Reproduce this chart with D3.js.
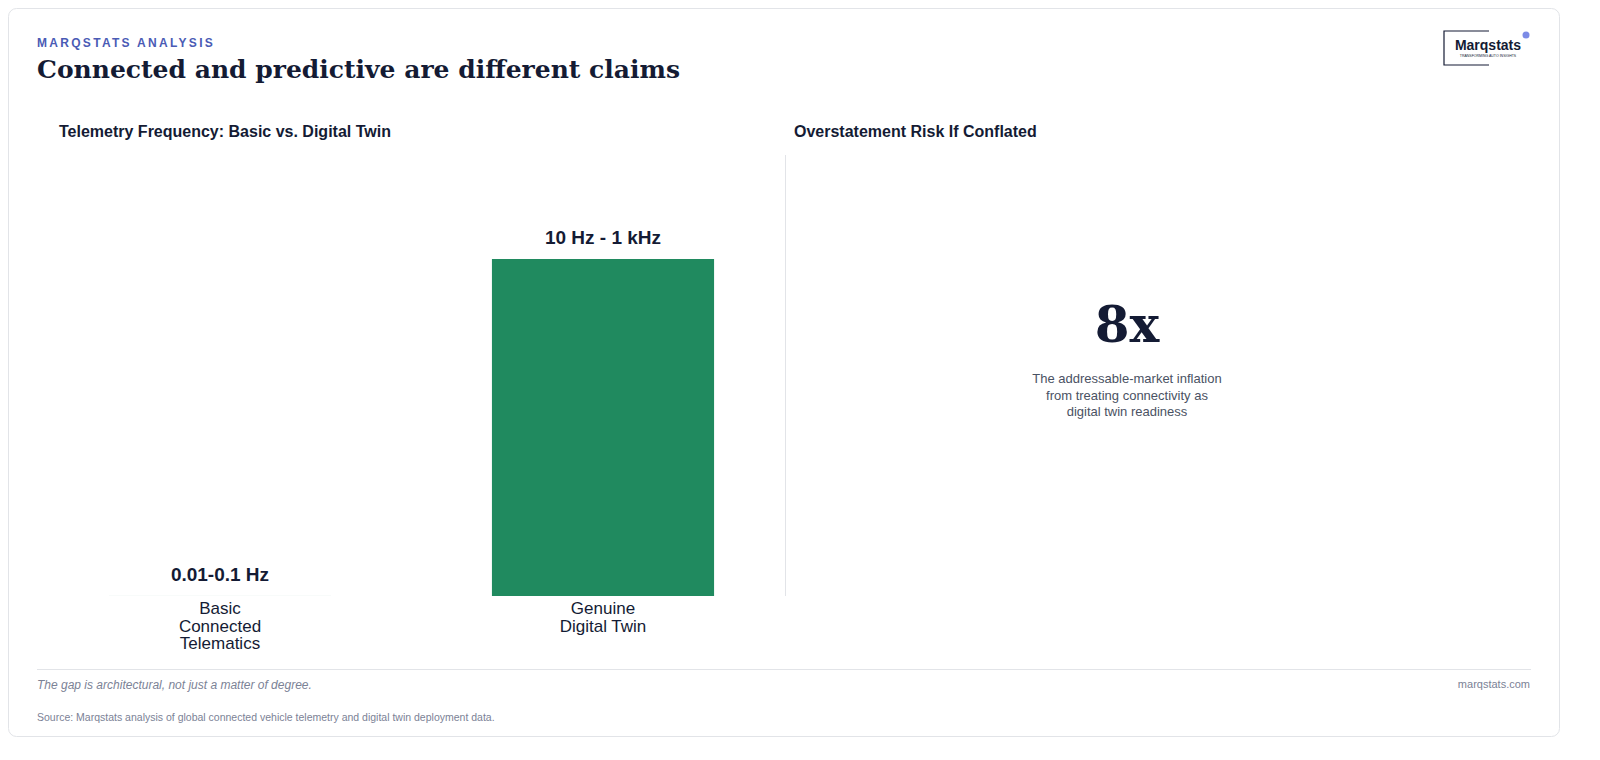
<!DOCTYPE html>
<html><head><meta charset="utf-8">
<script src="https://cdn.jsdelivr.net/npm/d3@7"></script>
<style>
body{margin:0;background:#fff;font-family:"Liberation Sans",Arial,sans-serif;}
</style></head>
<body><svg id="chart" width="1600" height="760"></svg>
<script>
var categories = ["Basic\nConnected\nTelematics", "Genuine\nDigital Twin"];
var values = [0.1, 1000];   // Hz (upper end of range)
var valueLabels = ["0.01-0.1 Hz", "10 Hz - 1 kHz"];
var colors = ["#208a5f", "#208a5f"];
var statValue = "8x";
var statLines = ["The addressable-market inflation", "from treating connectivity as", "digital twin readiness"];

var svg = d3.select("#chart");
var ink = "#141b34";

svg.append("rect").attr("x", 8.5).attr("y", 8.5).attr("width", 1551).attr("height", 728)
  .attr("rx", 8).attr("fill", "#fff").attr("stroke", "#e2e4e8");

svg.append("text").attr("x", 37).attr("y", 47).text("MARQSTATS ANALYSIS")
  .attr("fill", "#4a5bb5").attr("font-size", 12).attr("font-weight", "bold").attr("letter-spacing", 2.3);
svg.append("text").attr("x", 37).attr("y", 78).text("Connected and predictive are different claims")
  .attr("fill", ink).attr("font-size", 25).attr("font-weight", "bold").attr("font-family", "DejaVu Serif, serif");

// logo
var logo = svg.append("g");
logo.append("path").attr("d", "M1489,31 H1444 V65 H1489").attr("fill", "none").attr("stroke", ink).attr("stroke-width", 1.2);
logo.append("text").attr("x", 1488).attr("y", 50).attr("text-anchor", "middle").text("Marqstats")
  .attr("fill", ink).attr("font-size", 14).attr("font-weight", "bold");
logo.append("text").attr("x", 1488).attr("y", 57).attr("text-anchor", "middle").text("TRANSFORMING AUTO INSIGHTS")
  .attr("fill", ink).attr("font-size", 3.5);
logo.append("circle").attr("cx", 1526).attr("cy", 35).attr("r", 3.5).attr("fill", "#5b6ee0").attr("opacity", 0.8);

// panel titles
svg.append("text").attr("x", 59).attr("y", 137).text("Telemetry Frequency: Basic vs. Digital Twin")
  .attr("fill", ink).attr("font-size", 16).attr("font-weight", "bold");
svg.append("text").attr("x", 794).attr("y", 137).text("Overstatement Risk If Conflated")
  .attr("fill", ink).attr("font-size", 16).attr("font-weight", "bold");
svg.append("line").attr("x1", 785.5).attr("x2", 785.5).attr("y1", 155).attr("y2", 596).attr("stroke", "#e2e4e8");

var x = d3.scaleBand().domain(categories).range([28.5, 794.5]).paddingInner(0.42).paddingOuter(0.21);
var y = d3.scaleLinear().domain([0, 1000]).range([596, 259]);

var bars = svg.append("g").selectAll("g").data(categories).enter().append("g");
bars.append("rect")
  .attr("x", function (d) { return x(d); })
  .attr("width", x.bandwidth())
  .attr("y", function (d, i) { return y(values[i]); })
  .attr("height", function (d, i) { return y(0) - y(values[i]); })
  .attr("fill", function (d, i) { return colors[i]; });
bars.append("text")
  .attr("x", function (d) { return x(d) + x.bandwidth() / 2; })
  .attr("y", function (d, i) { return y(values[i]) - 15; })
  .attr("text-anchor", "middle").attr("fill", ink).attr("font-size", 19).attr("font-weight", "bold")
  .text(function (d, i) { return valueLabels[i]; });
bars.append("text")
  .attr("text-anchor", "middle").attr("fill", ink).attr("font-size", 17)
  .selectAll("tspan").data(function (d) { return d.split("\n").map(function (t) { return [d, t]; }); })
  .enter().append("tspan")
  .attr("x", function (p) { return x(p[0]) + x.bandwidth() / 2; })
  .attr("y", function (p, i) { return 614 + i * 17.5; })
  .text(function (p) { return p[1]; });

// stat
svg.append("text").attr("x", 1127).attr("y", 342).attr("text-anchor", "middle").text(statValue)
  .attr("fill", ink).attr("font-size", 50).attr("font-weight", "bold").attr("font-family", "DejaVu Serif, serif");
svg.append("g").selectAll("text").data(statLines).enter().append("text")
  .attr("x", 1127).attr("y", function (d, i) { return 383 + i * 16.5; }).attr("text-anchor", "middle")
  .attr("fill", "#4a5263").attr("font-size", 13).text(function (d) { return d; });

// footer
svg.append("line").attr("x1", 37).attr("x2", 1531).attr("y1", 669.5).attr("y2", 669.5).attr("stroke", "#e2e4e8");
svg.append("text").attr("x", 37).attr("y", 689).text("The gap is architectural, not just a matter of degree.")
  .attr("fill", "#7b8296").attr("font-size", 12).attr("font-style", "italic");
svg.append("text").attr("x", 1530).attr("y", 688).attr("text-anchor", "end").text("marqstats.com")
  .attr("fill", "#7b8296").attr("font-size", 11);
svg.append("text").attr("x", 37).attr("y", 721).text("Source: Marqstats analysis of global connected vehicle telemetry and digital twin deployment data.")
  .attr("fill", "#7b8296").attr("font-size", 10.5);
</script></body></html>
